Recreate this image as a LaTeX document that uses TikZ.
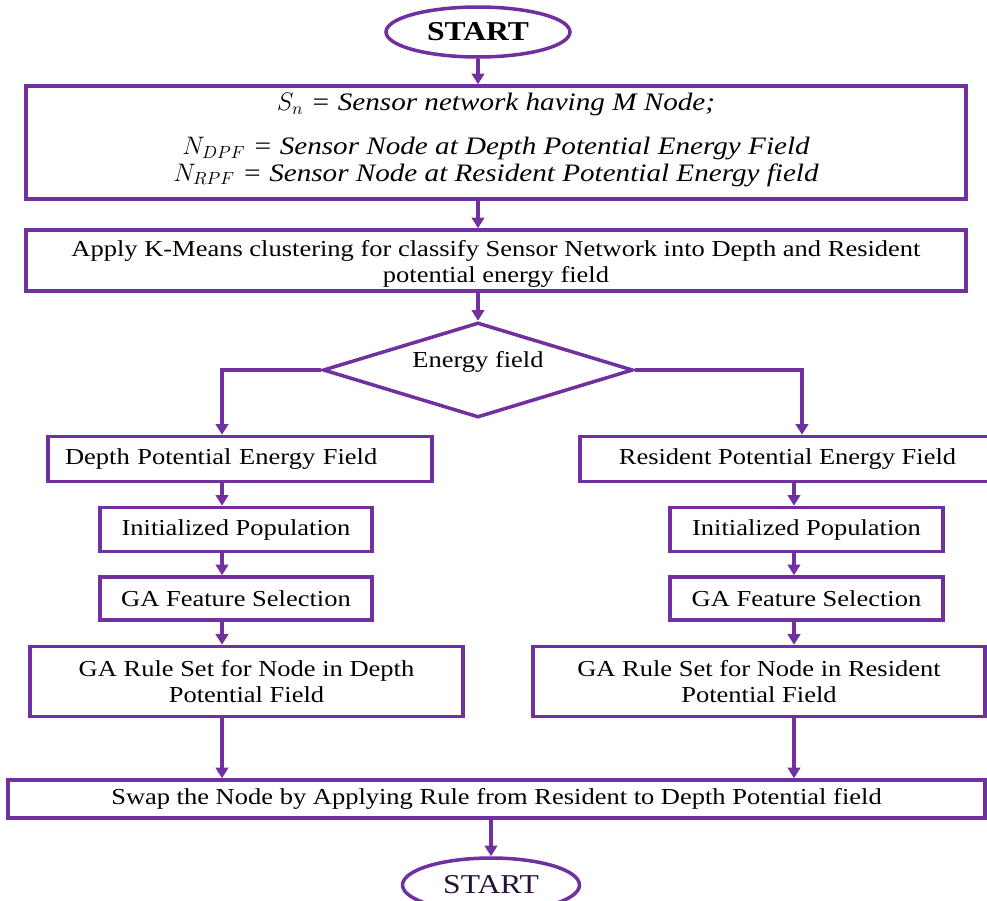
\documentclass[tikz,border=0pt]{standalone}
\usepackage{fontspec}
\setmainfont{Liberation Serif}[FakeStretch=1.16]
\usepackage{tikz}
\usetikzlibrary{positioning,shapes,arrows.meta}
\definecolor{flowpurple}{RGB}{112,48,160}

\begin{document}
\begin{tikzpicture}[x=0.02cm,y=-0.02cm,
  box/.style={draw=flowpurple,line width=2pt,rectangle,inner sep=0pt,align=center,font=\fontsize{13}{15}\selectfont},
  term/.style={draw=flowpurple,line width=2pt,ellipse,inner sep=0pt,font=\fontsize{15.5}{18}\selectfont},
  decide/.style={draw=flowpurple,line width=2pt,diamond,aspect=3.26,inner sep=0pt,font=\fontsize{13}{15}\selectfont},
  flow/.style={draw=flowpurple,line width=2pt,-{Triangle[length=6pt,width=7pt]}}]
\useasboundingbox (0,0) rectangle (987,900);

\node[term,minimum width=3.68cm,minimum height=1cm] (start) at (478,32) {\textbf{START}};
\node[box,minimum width=18.8cm,minimum height=2.26cm] (net) at (496,142.5) {};
\node[align=center,inner sep=0pt,font=\fontsize{14.3}{15}\selectfont\itshape] (nettext) at (496,140)
  {$S_n$ = Sensor network having M Node;\\[10pt]
   $N_{DPF}$ = Sensor Node at Depth Potential Energy Field\\
   $N_{RPF}$ = Sensor Node at Resident Potential Energy field};
\node[box,minimum width=18.8cm,minimum height=1.22cm] (kmeans) at (496,260.5) {};
\node[align=center,inner sep=0pt,font=\fontsize{13}{14.5}\selectfont] (kmeanstext) at (496,264)
  {Apply K-Means clustering for classify Sensor Network into Depth and Resident\\potential energy field};
\node[decide,minimum width=6.2cm,minimum height=1.9cm] (field) at (478,370) {};
\node[inner sep=0pt,font=\fontsize{13}{15}\selectfont] (fieldtext) at (478,362) {Energy field};

\node[box,minimum width=7.68cm,minimum height=0.9cm,text width=7.0cm,align=left] (dpf) at (240,459) {Depth Potential Energy Field};
\node[box,minimum width=5.44cm,minimum height=0.88cm] (dpop) at (236,529.5) {Initialized Population};
\node[box,minimum width=5.44cm,minimum height=0.86cm] (dsel) at (236,598.5) {GA Feature Selection};
\node[box,minimum width=8.66cm,minimum height=1.4cm] (drule) at (246.5,681.5) {GA Rule Set for Node in Depth\\Potential Field};

\node[box,minimum width=8.3cm,minimum height=0.9cm] (rpf) at (787.5,459) {Resident Potential Energy Field};
\node[box,minimum width=5.46cm,minimum height=0.88cm] (rpop) at (806.5,529.5) {Initialized Population};
\node[box,minimum width=5.46cm,minimum height=0.86cm] (rsel) at (806.5,598.5) {GA Feature Selection};
\node[box,minimum width=9.04cm,minimum height=1.4cm] (rrule) at (759,681.5) {GA Rule Set for Node in Resident\\Potential Field};

\node[box,minimum width=19.54cm,minimum height=0.76cm] (swap) at (496.5,799) {Swap the Node by Applying Rule from Resident to Depth Potential field};
\node[term,minimum width=3.54cm,minimum height=1.08cm,text=black!65!flowpurple] (stop) at (491,885) {START};

\coordinate (lcol) at (222,0);
\coordinate (rcol) at (802,0);
\coordinate (rcol2) at (794,0);

\draw[flow] (start) -- (start |- net.north);
\draw[flow] (net.south -| start) -- (kmeans.north -| start);
\draw[flow] (kmeans.south -| start) -- (field.north);
\draw[flow] (field.west) -| (dpf.north -| lcol);
\draw[flow] (field.east) -| (rpf.north -| rcol);
\draw[flow] (dpf.south -| lcol) -- (dpop.north -| lcol);
\draw[flow] (dpop.south -| lcol) -- (dsel.north -| lcol);
\draw[flow] (dsel.south -| lcol) -- (drule.north -| lcol);
\draw[flow] (drule.south -| lcol) -- (swap.north -| lcol);
\draw[flow] (rpf.south -| rcol2) -- (rpop.north -| rcol2);
\draw[flow] (rpop.south -| rcol2) -- (rsel.north -| rcol2);
\draw[flow] (rsel.south -| rcol2) -- (rrule.north -| rcol2);
\draw[flow] (rrule.south -| rcol2) -- (swap.north -| rcol2);
\draw[flow] (swap.south -| stop) -- (stop.north);
\end{tikzpicture}
\end{document}
